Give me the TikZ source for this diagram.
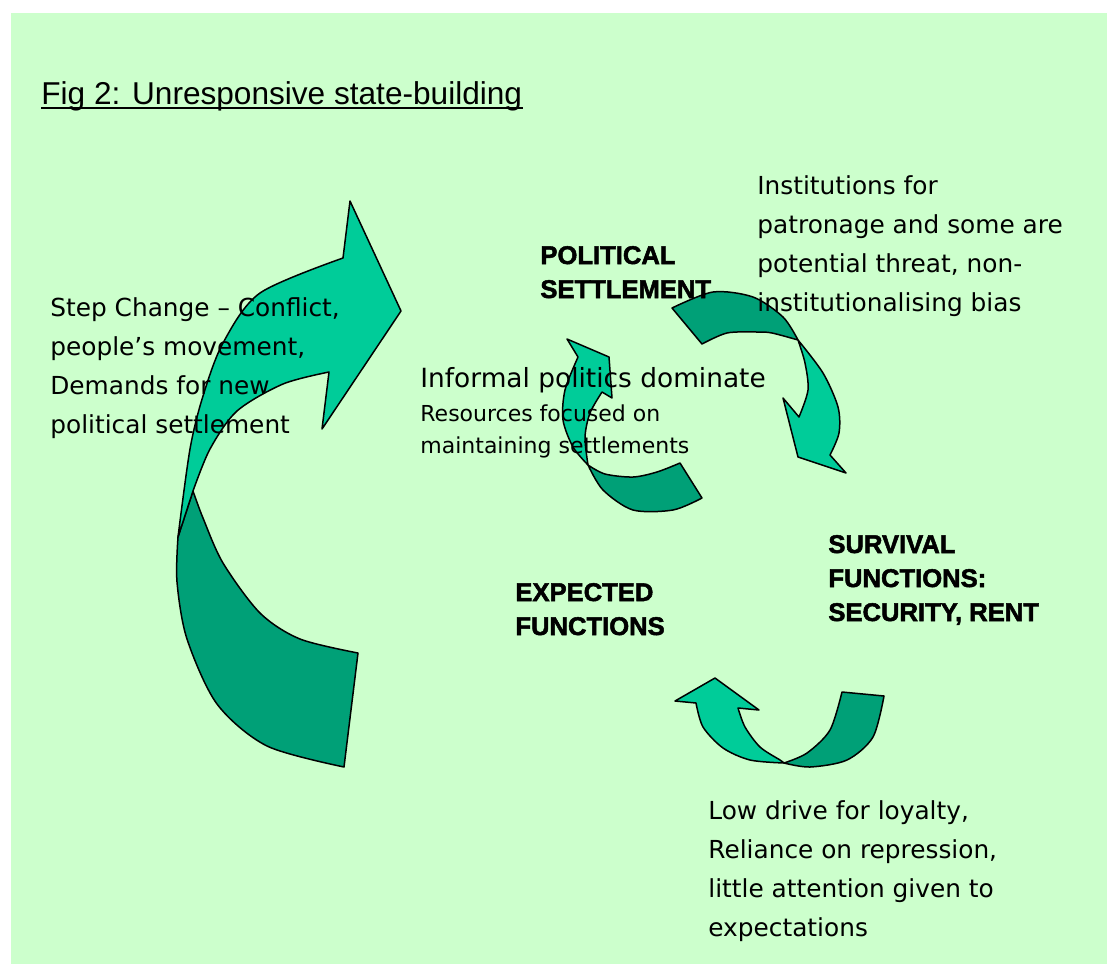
\documentclass[tikz,border=0pt]{standalone}
\usepackage{fontspec}
\setmainfont{DejaVu Sans}
\newfontfamily\arialfont{Liberation Sans}
\newfontfamily\stagefont{Liberation Sans}[BoldFeatures={FakeBold=2}]
\definecolor{paleback}{HTML}{CCFFCC}
\definecolor{frontface}{HTML}{00CC99}
\definecolor{backface}{HTML}{00A077}
\tikzset{
  front/.style={fill=frontface, draw=black, line width=0.75pt, line join=round},
  back/.style={fill=backface, draw=black, line width=0.75pt, line join=round},
  % multi-line nodes sit on the baseline of their last line
  remark/.style={anchor=base west, align=left, inner sep=0pt, font=\fontsize{12.4}{19.4}\selectfont},
  stage/.style={anchor=base west, align=left, inner sep=0pt, font=\stagefont\bfseries\fontsize{12.8}{17}\selectfont},
}
\begin{document}
\begin{tikzpicture}[x=0.5pt, y=-0.5pt]
\useasboundingbox (0,0) rectangle (1107,964);
\fill[paleback] (11,13) rectangle (1107,964);

% big step change arrow: back face, then front face
\filldraw[back] plot[smooth] coordinates {(178,537) (177,582) (187,639) (217,704) (267,746) (344,767)}
  -- (358,653) -- plot[smooth] coordinates {(358,653) (300,639) (260,613) (223,563) (203,518) (193,491)} -- cycle;
\filldraw[front] (343,258) -- (350,201) -- (401,311) -- (322,429) -- (329,372)
  -- plot[smooth] coordinates {(329,372) (283,384) (237,411) (210,449) (193,491)}
  -- (178,537)
  -- plot[smooth] coordinates {(178,537) (190,449) (203,396) (223,343) (260,293) (343,258)} -- cycle;

% cycle arrow, top right
\filldraw[back] plot[smooth] coordinates {(672,308) (713,292) (753,297) (783,317) (798,340)}
  -- plot[smooth] coordinates {(798,340) (772,333) (757,332) (727,333) (702,344)} -- cycle;
\filldraw[front] plot[smooth] coordinates {(798,340) (823,373) (838,407) (839,433) (830,455)}
  -- (846,473) -- (798,457) -- (783,398) -- (799,417)
  -- plot[smooth] coordinates {(799,417) (808,390) (805,363) (798,340)} -- cycle;

% cycle arrow, left
\filldraw[back] plot[smooth] coordinates {(588,465) (603,490) (633,510) (673,510) (702,498)}
  -- (680,463) -- plot[smooth] coordinates {(680,463) (657,472) (633,477) (605,474) (588,465)} -- cycle;
\filldraw[front] plot[smooth] coordinates {(588,465) (573,447) (563,420) (565,390) (578,357)}
  -- (567,339) -- (609,357) -- (612,398) -- (602,392)
  -- plot[smooth] coordinates {(602,392) (590,413) (585,437) (588,465)} -- cycle;

% bottom arrow back towards expected functions
\filldraw[back] plot[smooth] coordinates {(784,763) (807,753) (830,730) (842,692)}
  -- (884,696) -- plot[smooth] coordinates {(884,696) (873,737) (847,760) (810,767) (784,763)} -- cycle;
\filldraw[front] (715,678) -- (759,710) -- (738,708)
  -- plot[smooth] coordinates {(738,708) (745,727) (760,747) (780,760) (784,763)}
  -- plot[smooth] coordinates {(784,763) (750,760) (723,748) (703,727) (696,703)}
  -- (675,701) -- cycle;

% title
\node[anchor=base west, inner sep=0pt, font=\arialfont\fontsize{15.8}{18}\selectfont] (title) at (41,104) {Fig 2: Unresponsive state-building};
\draw[line width=1pt] ([yshift=-2pt]title.base west) -- ([yshift=-2pt]title.base east);

% stages
\node[stage] (political) at (540,298) {POLITICAL\\SETTLEMENT};
\node[stage] (expected) at (515,635) {EXPECTED\\FUNCTIONS};
\node[stage] (survival) at (828,621) {SURVIVAL\\FUNCTIONS:\\SECURITY, RENT};

% remarks
\node[remark] (stepchange) at (50,433) {Step Change – Conflict,\\people’s movement,\\Demands for new\\political settlement};
\node[remark] (institutions) at (757,311) {Institutions for\\patronage and some are\\potential threat, non-\\institutionalising bias};
\node[remark, font=\fontsize{13.2}{16}\selectfont] (informal) at (420,387) {Informal politics dominate};
\node[remark, font=\fontsize{11}{16}\selectfont] (resources) at (420,453) {Resources focused on\\maintaining settlements};
\node[remark] (lowdrive) at (708,936) {Low drive for loyalty,\\Reliance on repression,\\little attention given to\\expectations};
\end{tikzpicture}
\end{document}
